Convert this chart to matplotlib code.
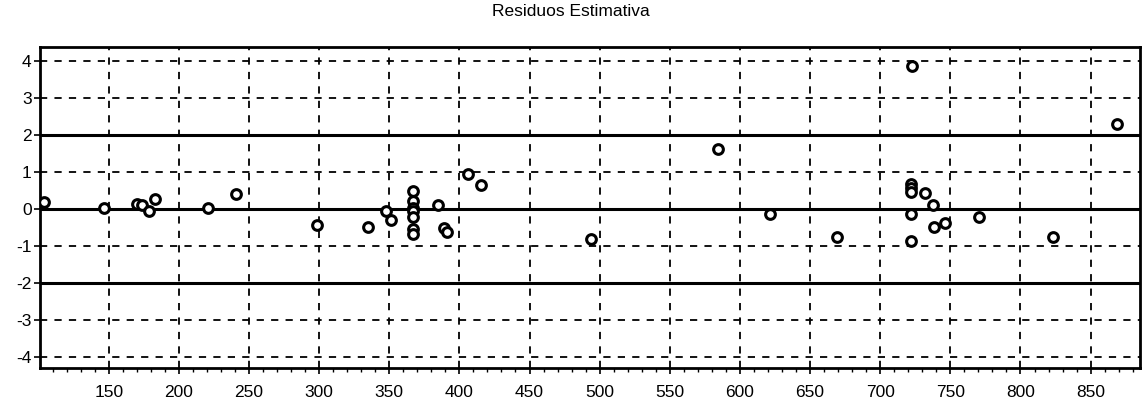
import numpy as np
import matplotlib.pyplot as plt
from matplotlib.ticker import MultipleLocator

# residual points
x_vals = [103.7, 146.4, 170, 174, 178.5, 182.8, 221, 241, 298.8, 335, 348, 351.6,
          367, 367, 367, 367, 367, 367, 367,
          385, 389.3, 391.4, 406.4, 415.7, 494, 584.5, 621.5, 669,
          722.6, 722, 722, 722, 722, 722,
          732, 737.6, 738.3, 746, 770.4, 823, 868.7]
residuals = [0.17, 0.02, 0.12, 0.10, -0.05, 0.27, 0.02, 0.40, -0.43, -0.48, -0.05, -0.30,
             0.49, 0.20, 0.03, -0.07, -0.21, -0.54, -0.67,
             0.10, -0.52, -0.62, 0.94, 0.65, -0.81, 1.62, -0.13, -0.77,
             3.85, 0.67, 0.55, 0.45, -0.13, -0.87,
             0.43, 0.10, -0.48, -0.39, -0.21, -0.75, 2.29]
limit_lines = [-2, 0, 2]
title = 'Residuos Estimativa'

plt.rcParams['font.family'] = ['Liberation Sans', 'DejaVu Sans']
plt.rcParams['axes.unicode_minus'] = False

fig = plt.figure(figsize=(11.42, 4.08), dpi=100)
ax = fig.add_axes([0.035, 0.098, 0.963, 0.787])

ax.set_xlim(101, 885)
ax.set_ylim(-4.3, 4.37)
ax.xaxis.set_minor_locator(MultipleLocator(10))
ax.yaxis.set_major_locator(MultipleLocator(1))
ax.set_xticks(np.arange(150, 851, 50))

ax.grid(True, which='major', color='black', linestyle=(0, (4, 4)), linewidth=1.3)
for y in limit_lines:
    ax.axhline(y, color='black', linewidth=2.2, zorder=2)

ax.plot(x_vals, residuals, linestyle='none', marker='o', markersize=7,
        markerfacecolor='white', markeredgecolor='black', markeredgewidth=2.2, zorder=3)

for s in ax.spines.values():
    s.set_linewidth(2)
ax.tick_params(axis='both', which='major', length=4, width=1.2, labelsize=12.5, pad=2)
ax.tick_params(axis='x', which='minor', length=3, width=1)
ax.tick_params(axis='x', pad=8)

fig.suptitle(title, y=0.99, fontsize=12.5)
fig.savefig('out.png', dpi=100)
